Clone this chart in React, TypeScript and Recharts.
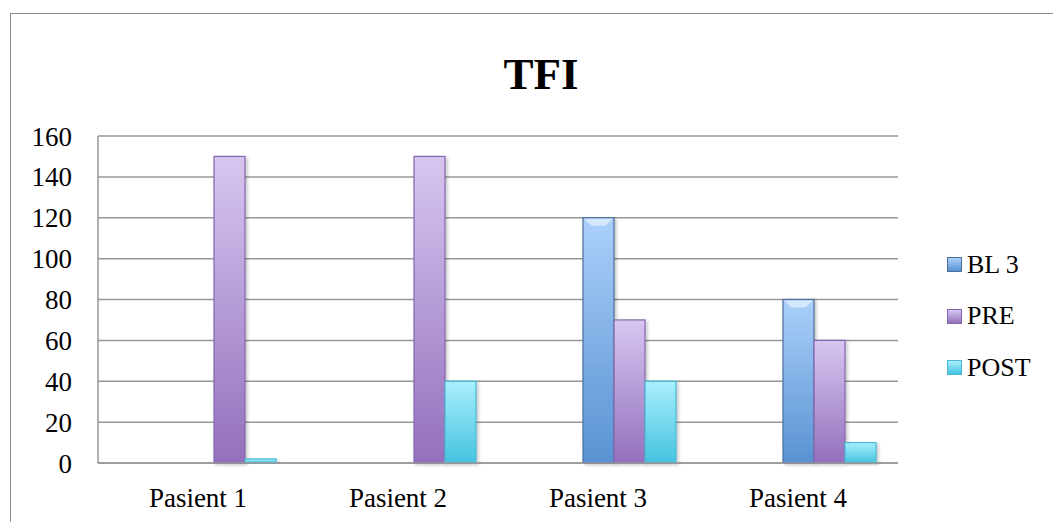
import { BarChart, Bar, XAxis, YAxis, CartesianGrid } from 'recharts';

// TFI scores per patient, three measurement points
const patients = ['Pasient 1', 'Pasient 2', 'Pasient 3', 'Pasient 4'];
const bl1Scores: (number | null)[] = [null, null, null, null];
const bl2Scores: (number | null)[] = [null, null, null, null];
const bl3Scores: (number | null)[] = [null, null, 120, 80];
const preScores = [150, 150, 70, 60];
const postScores = [2, 40, 40, 10];
const yTicks = [0, 20, 40, 60, 80, 100, 120, 140, 160];

const chartData = patients.map((name, i) => ({
  name,
  bl1: bl1Scores[i],
  bl2: bl2Scores[i],
  bl3: bl3Scores[i],
  pre: preScores[i],
  post: postScores[i],
}));

const FONT = '"Liberation Serif", "Times New Roman", serif';

const seriesStyle = {
  bl3: { top: '#abd0fa', bottom: '#5892d2', stroke: '#4a6e9c' },
  pre: { top: '#d6c6f0', bottom: '#9370bc', stroke: '#8465ad' },
  post: { top: '#a9effd', bottom: '#45c2df', stroke: '#4ab8d4' },
};

const legendItems = [
  { label: 'BL 3', key: 'bl3' as const },
  { label: 'PRE', key: 'pre' as const },
  { label: 'POST', key: 'post' as const },
];

const makeShape = (key: 'bl3' | 'pre' | 'post', bevel = false) => (props: any) => {
  const { x, y, width, height } = props;
  if (height == null || height <= 0) return <g />;
  const c = seriesStyle[key];
  const inset = Math.min(8, height / 2);
  return (
    <g filter="url(#barShadow)">
      <rect x={x} y={y} width={width} height={height} fill={`url(#grad-${key})`} stroke={c.stroke} strokeWidth={1.2} />
      {bevel && (
        <polygon
          points={`${x + 1},${y + 1} ${x + width - 1},${y + 1} ${x + width * 0.72},${y + inset} ${x + width * 0.28},${y + inset}`}
          fill="#dcecff"
          opacity={0.85}
        />
      )}
    </g>
  );
};

export default function App() {
  return (
    <div style={{ position: 'fixed', left: 0, top: 0, width: 1053, height: 522, overflow: 'hidden', background: '#fff' }}>
      {/* chart frame */}
      <div
        style={{
          position: 'absolute',
          left: 10,
          top: 13,
          width: 1120,
          height: 600,
          border: '1.5px solid #8e8e8e',
        }}
      />

      <div
        style={{
          position: 'absolute',
          left: 0,
          top: 52,
          width: 1082,
          textAlign: 'center',
          fontFamily: FONT,
          fontWeight: 'bold',
          fontSize: 45,
          lineHeight: '45px',
          color: '#000',
        }}
      >
        TFI
      </div>

      <div style={{ position: 'absolute', left: 0, top: 0 }}>
        <BarChart
          width={1053}
          height={522}
          data={chartData}
          margin={{ top: 136, right: 155, left: 38, bottom: 29 }}
          barGap={0}
          barCategoryGap={23}
        >
          <defs>
            {legendItems.map(({ key }) => (
              <linearGradient key={key} id={`grad-${key}`} x1="0" y1="0" x2="0" y2="1">
                <stop offset="0%" stopColor={seriesStyle[key].top} />
                <stop offset="100%" stopColor={seriesStyle[key].bottom} />
              </linearGradient>
            ))}
            <filter id="barShadow" x="-20%" y="-5%" width="150%" height="115%">
              <feDropShadow dx="2" dy="1.5" stdDeviation="1.5" floodColor="#000" floodOpacity="0.22" />
            </filter>
          </defs>
          <CartesianGrid vertical={false} stroke="#979797" strokeWidth={1.5} />
          <XAxis
            dataKey="name"
            height={30}
            axisLine={{ stroke: '#979797', strokeWidth: 1.5 }}
            tickLine={false}
            tickSize={0}
            tickMargin={25}
            tick={{ fontSize: 27, fill: '#000', fontFamily: FONT }}
          />
          <YAxis
            width={60}
            domain={[0, 160]}
            ticks={yTicks}
            interval={0}
            axisLine={{ stroke: '#979797', strokeWidth: 1.5 }}
            tickLine={false}
            tickSize={0}
            tickMargin={26}
            tick={{ fontSize: 27, fill: '#000', fontFamily: FONT }}
          />
          <Bar dataKey="bl1" name="BL 1" legendType="none" isAnimationActive={false} />
          <Bar dataKey="bl2" name="BL 2" legendType="none" isAnimationActive={false} />
          <Bar dataKey="bl3" name="BL 3" shape={makeShape('bl3', true)} isAnimationActive={false} />
          <Bar dataKey="pre" name="PRE" shape={makeShape('pre')} isAnimationActive={false} />
          <Bar dataKey="post" name="POST" shape={makeShape('post')} isAnimationActive={false} />
        </BarChart>
      </div>

      {/* legend */}
      <div style={{ position: 'absolute', left: 947, top: 239 }}>
        {legendItems.map(({ label, key }) => (
          <div key={key} style={{ display: 'flex', alignItems: 'center', height: 51.5 }}>
            <span
              style={{
                display: 'inline-block',
                width: 13,
                height: 13,
                border: `1px solid ${seriesStyle[key].stroke}`,
                background: `linear-gradient(${seriesStyle[key].top}, ${seriesStyle[key].bottom})`,
              }}
            />
            <span style={{ marginLeft: 5, fontFamily: FONT, fontSize: 26, color: '#000' }}>{label}</span>
          </div>
        ))}
      </div>
    </div>
  );
}
